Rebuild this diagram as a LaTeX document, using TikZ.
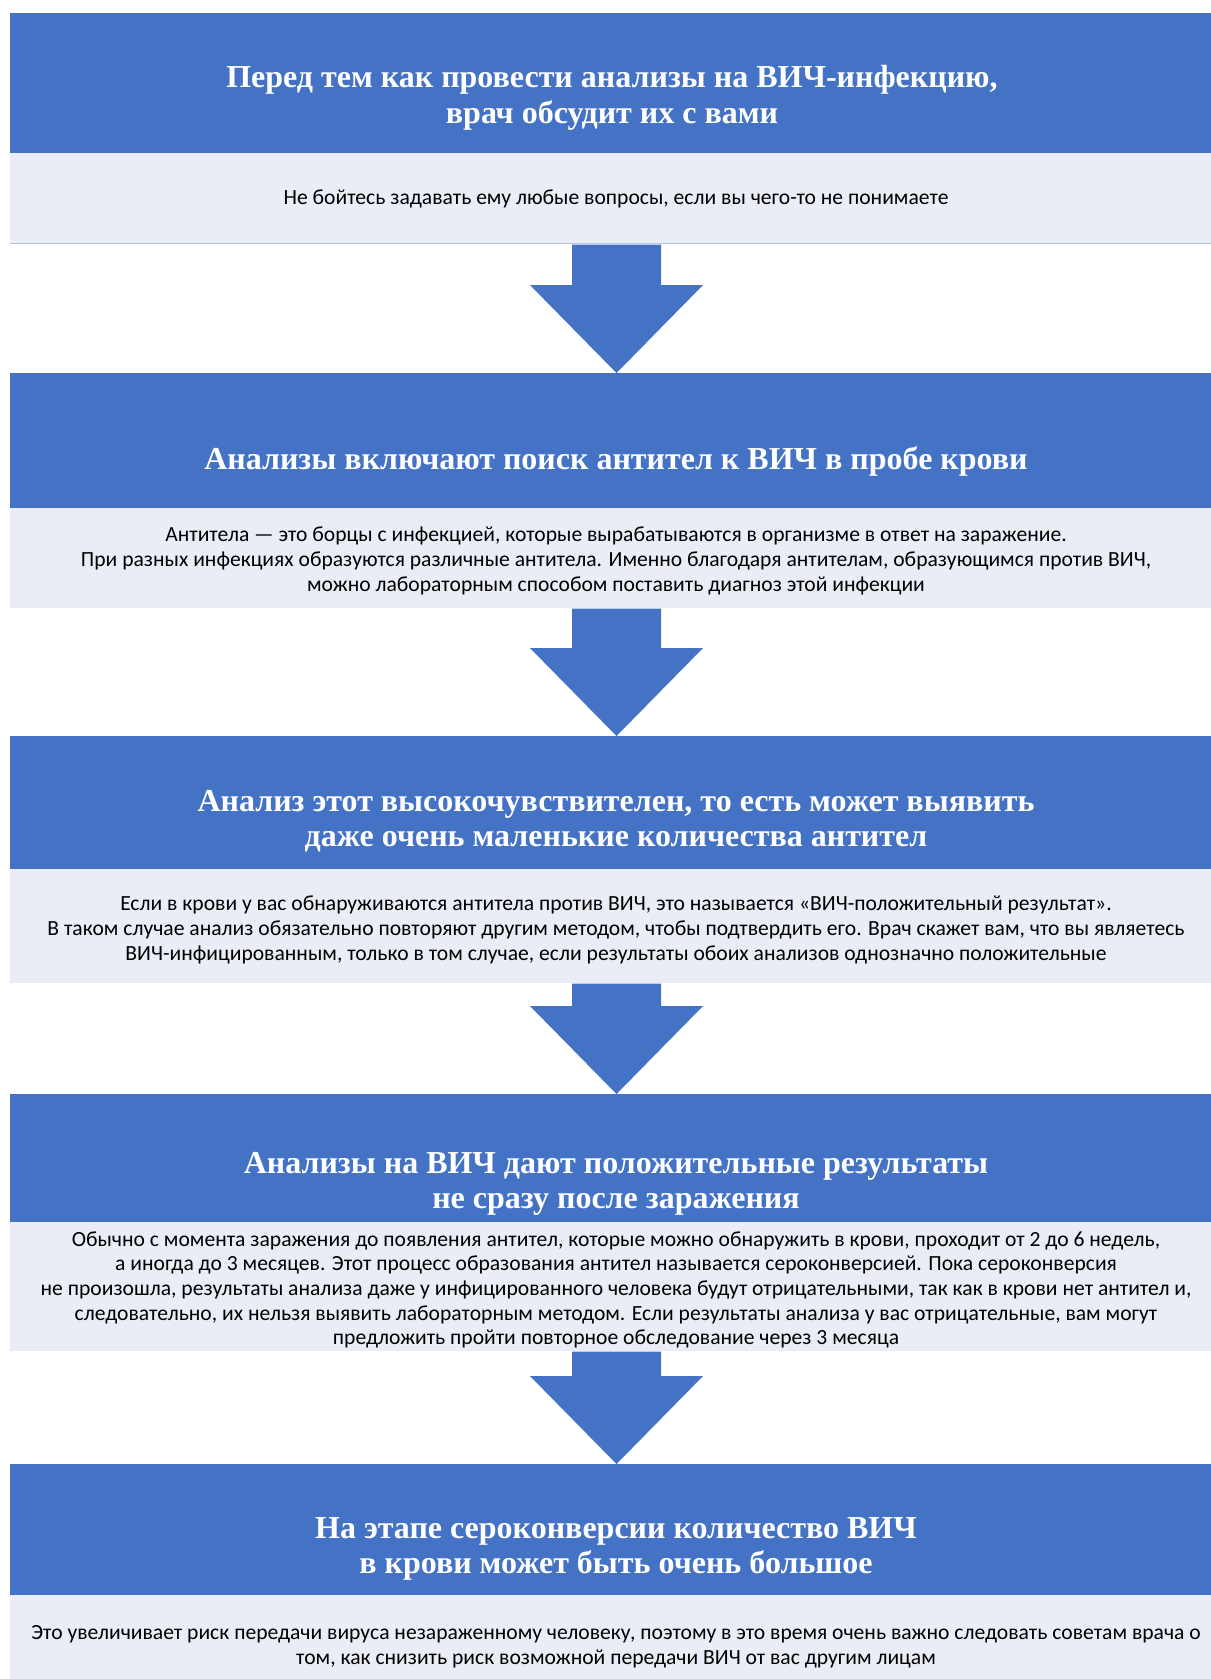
\documentclass[tikz,border=0pt]{standalone}
\usepackage{fontspec}
\setmainfont{Carlito}
\newfontfamily\titlefont{Liberation Serif}
\usetikzlibrary{calc}
\definecolor{mainblue}{HTML}{4472C4}
\definecolor{paleblue}{HTML}{EAEDF5}
\definecolor{edgeblue}{HTML}{B4C4E4}
\tikzset{
  bluebox/.style={fill=mainblue, draw=none, rectangle, anchor=north west, minimum width=1202, inner sep=0pt},
  palebox/.style={fill=paleblue, draw=none, rectangle, anchor=north west, minimum width=1202, inner sep=0pt},
  titletext/.style={text=white, align=center, font=\titlefont\bfseries\fontsize{24}{26.6}\selectfont, inner sep=0pt},
  bodytext/.style={text=black, align=center, font=\fontsize{16.2}{18.5}\selectfont, inner sep=0pt},
  downarrow/.style={fill=mainblue, draw=none}
}
\begin{document}
\begin{tikzpicture}[x=0.75pt, y=-0.75pt]
\useasboundingbox (0,0) rectangle (1211,1679);
\fill[white] (0,0) rectangle (1211,1679);

% box 1
\node[bluebox, minimum height=105] (b1) at (10,13) {};
\node[palebox, minimum height=68.25] (l1) at (10,153) {};
\draw[edgeblue, line width=1pt] (10,243.5) -- (1211,243.5);
\node[titletext] (t1) at (612,98) {Перед тем как провести анализы на ВИЧ-инфекцию,\\врач обсудит их с вами};
\node[bodytext] (x1) at (616,199) {Не бойтесь задавать ему любые вопросы, если вы чего-то не понимаете};

% box 2
\node[bluebox, minimum height=101.25] (b2) at (10,373) {};
\node[palebox, minimum height=75] (l2) at (10,508) {};
\node[titletext] (t2) at (616,461) {Анализы включают поиск антител к ВИЧ в пробе крови};
\node[bodytext] (x2) at (616,561) {Антитела — это борцы с инфекцией, которые вырабатываются в организме в ответ на заражение.\\При разных инфекциях образуются различные антитела. Именно благодаря антителам, образующимся против ВИЧ,\\можно лабораторным способом поставить диагноз этой инфекции};

% box 3
\node[bluebox, minimum height=99.75] (b3) at (10,736) {};
\node[palebox, minimum height=85.5] (l3) at (10,869) {};
\node[titletext] (t3) at (616,821) {Анализ этот высокочувствителен, то есть может выявить\\даже очень маленькие количества антител};
\node[bodytext] (x3) at (616,930) {Если в крови у вас обнаруживаются антитела против ВИЧ, это называется «ВИЧ-положительный результат».\\В таком случае анализ обязательно повторяют другим методом, чтобы подтвердить его. Врач скажет вам, что вы являетесь\\ВИЧ-инфицированным, только в том случае, если результаты обоих анализов однозначно положительные};

% box 4
\node[bluebox, minimum height=96] (b4) at (10,1094) {};
\node[palebox, minimum height=96.75] (l4) at (10,1222) {};
\node[titletext] (t4) at (616,1184) {Анализы на ВИЧ дают положительные результаты\\не сразу после заражения};
\node[bodytext] (x4) at (616,1290) {Обычно с момента заражения до появления антител, которые можно обнаружить в крови, проходит от 2 до 6 недель,\\а иногда до 3 месяцев. Этот процесс образования антител называется сероконверсией. Пока сероконверсия\\не произошла, результаты анализа даже у инфицированного человека будут отрицательными, так как в крови нет антител и,\\следовательно, их нельзя выявить лабораторным методом. Если результаты анализа у вас отрицательные, вам могут\\предложить пройти повторное обследование через 3 месяца};

% box 5
\node[bluebox, minimum height=98.25] (b5) at (10,1464) {};
\node[palebox, minimum height=63] (l5) at (10,1595) {};
\node[titletext] (t5) at (616,1549) {На этапе сероконверсии количество ВИЧ\\в крови может быть очень большое};
\node[bodytext] (x5) at (616,1647) {Это увеличивает риск передачи вируса незараженному человеку, поэтому в это время очень важно следовать советам врача о\\том, как снизить риск возможной передачи ВИЧ от вас другим лицам};

% arrows (shaft from pale box bottom, tip on next blue box top)
\foreach \src/\dst/\hd in {l1/b2/285, l2/b3/648, l3/b4/1006, l4/b5/1376}{
  \fill[downarrow]
    ($(\src.south west)+(562,0)$) -- ($(\src.south west)+(651,0)$)
    -- (661,\hd) -- (703,\hd)
    -- ($(\dst.north west)+(606.5,0)$)
    -- (530,\hd) -- (572,\hd) -- cycle;
}
\end{tikzpicture}
\end{document}
